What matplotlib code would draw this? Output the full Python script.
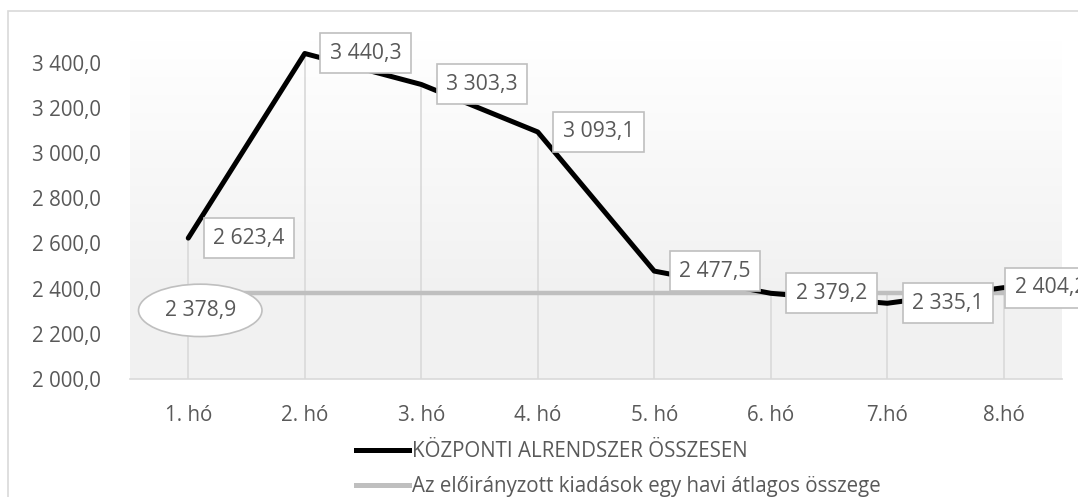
import matplotlib
matplotlib.use("Agg")
import matplotlib.pyplot as plt
import numpy as np
from matplotlib.patches import Rectangle
from matplotlib.lines import Line2D

categories = ["1. hó", "2. hó", "3. hó", "4. hó", "5. hó", "6. hó", "7.hó", "8.hó"]
kozponti = [2623.4, 3440.3, 3303.3, 3093.1, 2477.5, 2379.2, 2335.1, 2404.2]
atlag = [2378.9] * 8
yticks = [2000, 2200, 2400, 2600, 2800, 3000, 3200, 3400]
label_kozponti = "KÖZPONTI ALRENDSZER ÖSSZESEN"
label_atlag = "Az előirányzott kiadások egy havi átlagos összege"

def hu(v):
    s = f"{v:,.1f}"
    return s.replace(",", " ").replace(".", ",")

W, H = 1078, 497
FS = 14.8
FSL = 15.2
plt.rcParams['font.family'] = ['Open Sans', 'DejaVu Sans']
txt = '#595959'
fig = plt.figure(figsize=(W / 100, H / 100), dpi=100)

# outer chart border (cropped at right/bottom)
fig.patches.append(Rectangle((8 / W, -0.1), 1.2, (H - 11) / H + 0.1, transform=fig.transFigure,
                             fill=False, edgecolor='#d9d9d9', linewidth=1.2))

l, r, b, t = 130, 1062, 379, 40
ax = fig.add_axes([l / W, (H - b) / H, (r - l) / W, (b - t) / H])
x = np.arange(len(categories))
ax.set_xlim(-0.5, len(categories) - 0.5)
ax.set_ylim(2000, 3500)

# gradient background
yy = np.linspace(3500, 2000, 300)
frac = np.clip((3500 - yy) / (3500 - 2450), 0, 1)
val = 1.0 - frac * (1.0 - 0.949)
grad = np.repeat(val[:, None], 2, axis=1)
ax.imshow(np.dstack([grad, grad, grad]), extent=[-0.5, len(categories) - 0.5, 2000, 3500],
          aspect='auto', zorder=0, interpolation='bilinear')

for s in ['top', 'right', 'left']:
    ax.spines[s].set_visible(False)
ax.spines['bottom'].set_color('#d9d9d9')
ax.spines['bottom'].set_linewidth(1.2)

# drop lines
tops = [max(a, c) for a, c in zip(kozponti, atlag)]
ax.vlines(x, 2000, tops, color='#d9d9d9', linewidth=1.2, zorder=1)

ax.plot(x, atlag, color='#bfbfbf', linewidth=3.2, solid_capstyle='butt', zorder=2)
ax.plot(x, kozponti, color='black', linewidth=3.6, solid_capstyle='round', zorder=3)

offsets = [25, 25, 25, 25, 25, 25, 25, 11]
for xi, v, off in zip(x, kozponti, offsets):
    ax.annotate(hu(v), (xi, v), xytext=(off, 0), textcoords='offset pixels',
                ha='left', va='center', fontsize=FSL, color=txt, zorder=5,
                annotation_clip=False,
                bbox=dict(boxstyle='square,pad=0.45', facecolor='white', edgecolor='#bfbfbf', linewidth=1.2))

ax.annotate(hu(atlag[0]), (x[0], atlag[0]), xytext=(12, -17), textcoords='offset pixels',
            ha='center', va='center', fontsize=FSL, color=txt, zorder=5,
            bbox=dict(boxstyle='ellipse,pad=0.38', facecolor='white', edgecolor='#bfbfbf', linewidth=1.2))

ax.set_yticks(yticks)
ax.set_yticklabels([hu(v) for v in yticks])
ax.set_xticks(x)
ax.set_xticklabels(categories)
ax.tick_params(axis='both', length=0, labelsize=FS, colors=txt)
ax.tick_params(axis='y', pad=21)
ax.tick_params(axis='x', pad=19)

handles = [Line2D([], [], color='black', linewidth=3.6),
           Line2D([], [], color='#bfbfbf', linewidth=3.6)]
leg = fig.legend(handles, [label_kozponti, label_atlag], loc='center',
                 bbox_to_anchor=(618 / W, (H - 469) / H), frameon=False, fontsize=FS,
                 handlelength=2.6, handletextpad=0.12, labelspacing=0.68, borderpad=0)
for tx in leg.get_texts():
    tx.set_color(txt)

fig.savefig("out.png", dpi=100)
